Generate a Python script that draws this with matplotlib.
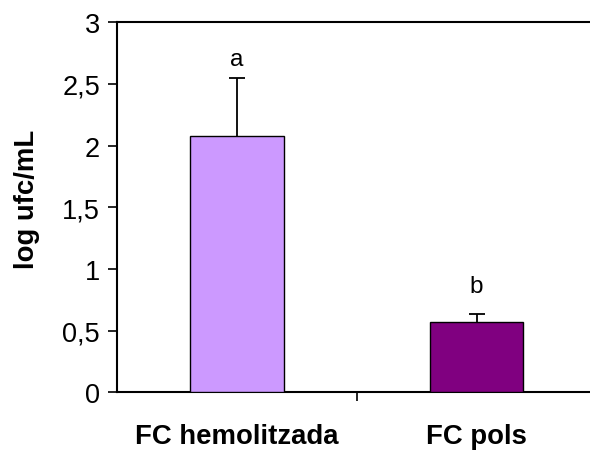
import matplotlib.pyplot as plt
import matplotlib.ticker as mticker

plt.rcParams["font.family"] = ["Liberation Sans", "DejaVu Sans"]

CATEGORIES = ["FC hemolitzada", "FC pols"]
MEANS = [2.08, 0.57]
ERRORS = [0.47, 0.065]
LETTERS = ["a", "b"]
LETTER_Y = [2.61, 0.77]
COLORS = ["#CC99FF", "#800080"]
YTICKS = [0, 0.5, 1, 1.5, 2, 2.5, 3]


def main():
    fig = plt.figure(figsize=(5.9, 4.52), dpi=100)
    ax = fig.add_axes([0.1988, 0.130, 0.812, 0.8185])

    x = list(range(len(CATEGORIES)))
    ax.bar(x, MEANS, width=0.39, color=COLORS, edgecolor="black", linewidth=1.0,
           zorder=3)
    # upper-only error bars; hide the lower cap that sits on the bar top
    eb = ax.errorbar(x, MEANS, yerr=[[0] * len(ERRORS), ERRORS], fmt="none",
                     ecolor="black", elinewidth=1.3, capsize=6, capthick=1.3,
                     zorder=2)
    eb[1][0].set_visible(False)

    for xi, lab, ly in zip(x, LETTERS, LETTER_Y):
        ax.text(xi, ly, lab, ha="center", va="bottom", fontsize=17.5)

    ax.set_xlim(-0.5, 1.5)
    ax.set_ylim(0, 3)
    ax.set_yticks(YTICKS)
    ax.yaxis.set_major_formatter(
        mticker.FuncFormatter(lambda v, p: f"{v:g}".replace(".", ",")))

    # tick mark between categories, labels centered under bars
    ax.set_xticks([0.5])
    ax.set_xticklabels([""])
    ax.set_xticks(x, minor=True)
    ax.set_xticklabels(CATEGORIES, minor=True, fontsize=19.8, fontweight="bold")
    ax.tick_params(axis="x", which="major", direction="out", length=6.5, width=1.2)
    ax.tick_params(axis="x", which="minor", length=0, pad=22.5)
    ax.tick_params(axis="y", direction="out", length=6.5, width=1.2,
                   labelsize=19.5, pad=6)

    ax.set_ylabel("log ufc/mL", fontsize=19.8, fontweight="bold")
    ax.yaxis.set_label_coords(-0.161, 0.525)

    for side in ["left", "bottom", "top"]:
        ax.spines[side].set_linewidth(1.5)
    ax.spines["right"].set_visible(False)

    fig.savefig("out.png", dpi=100)


if __name__ == "__main__":
    main()
